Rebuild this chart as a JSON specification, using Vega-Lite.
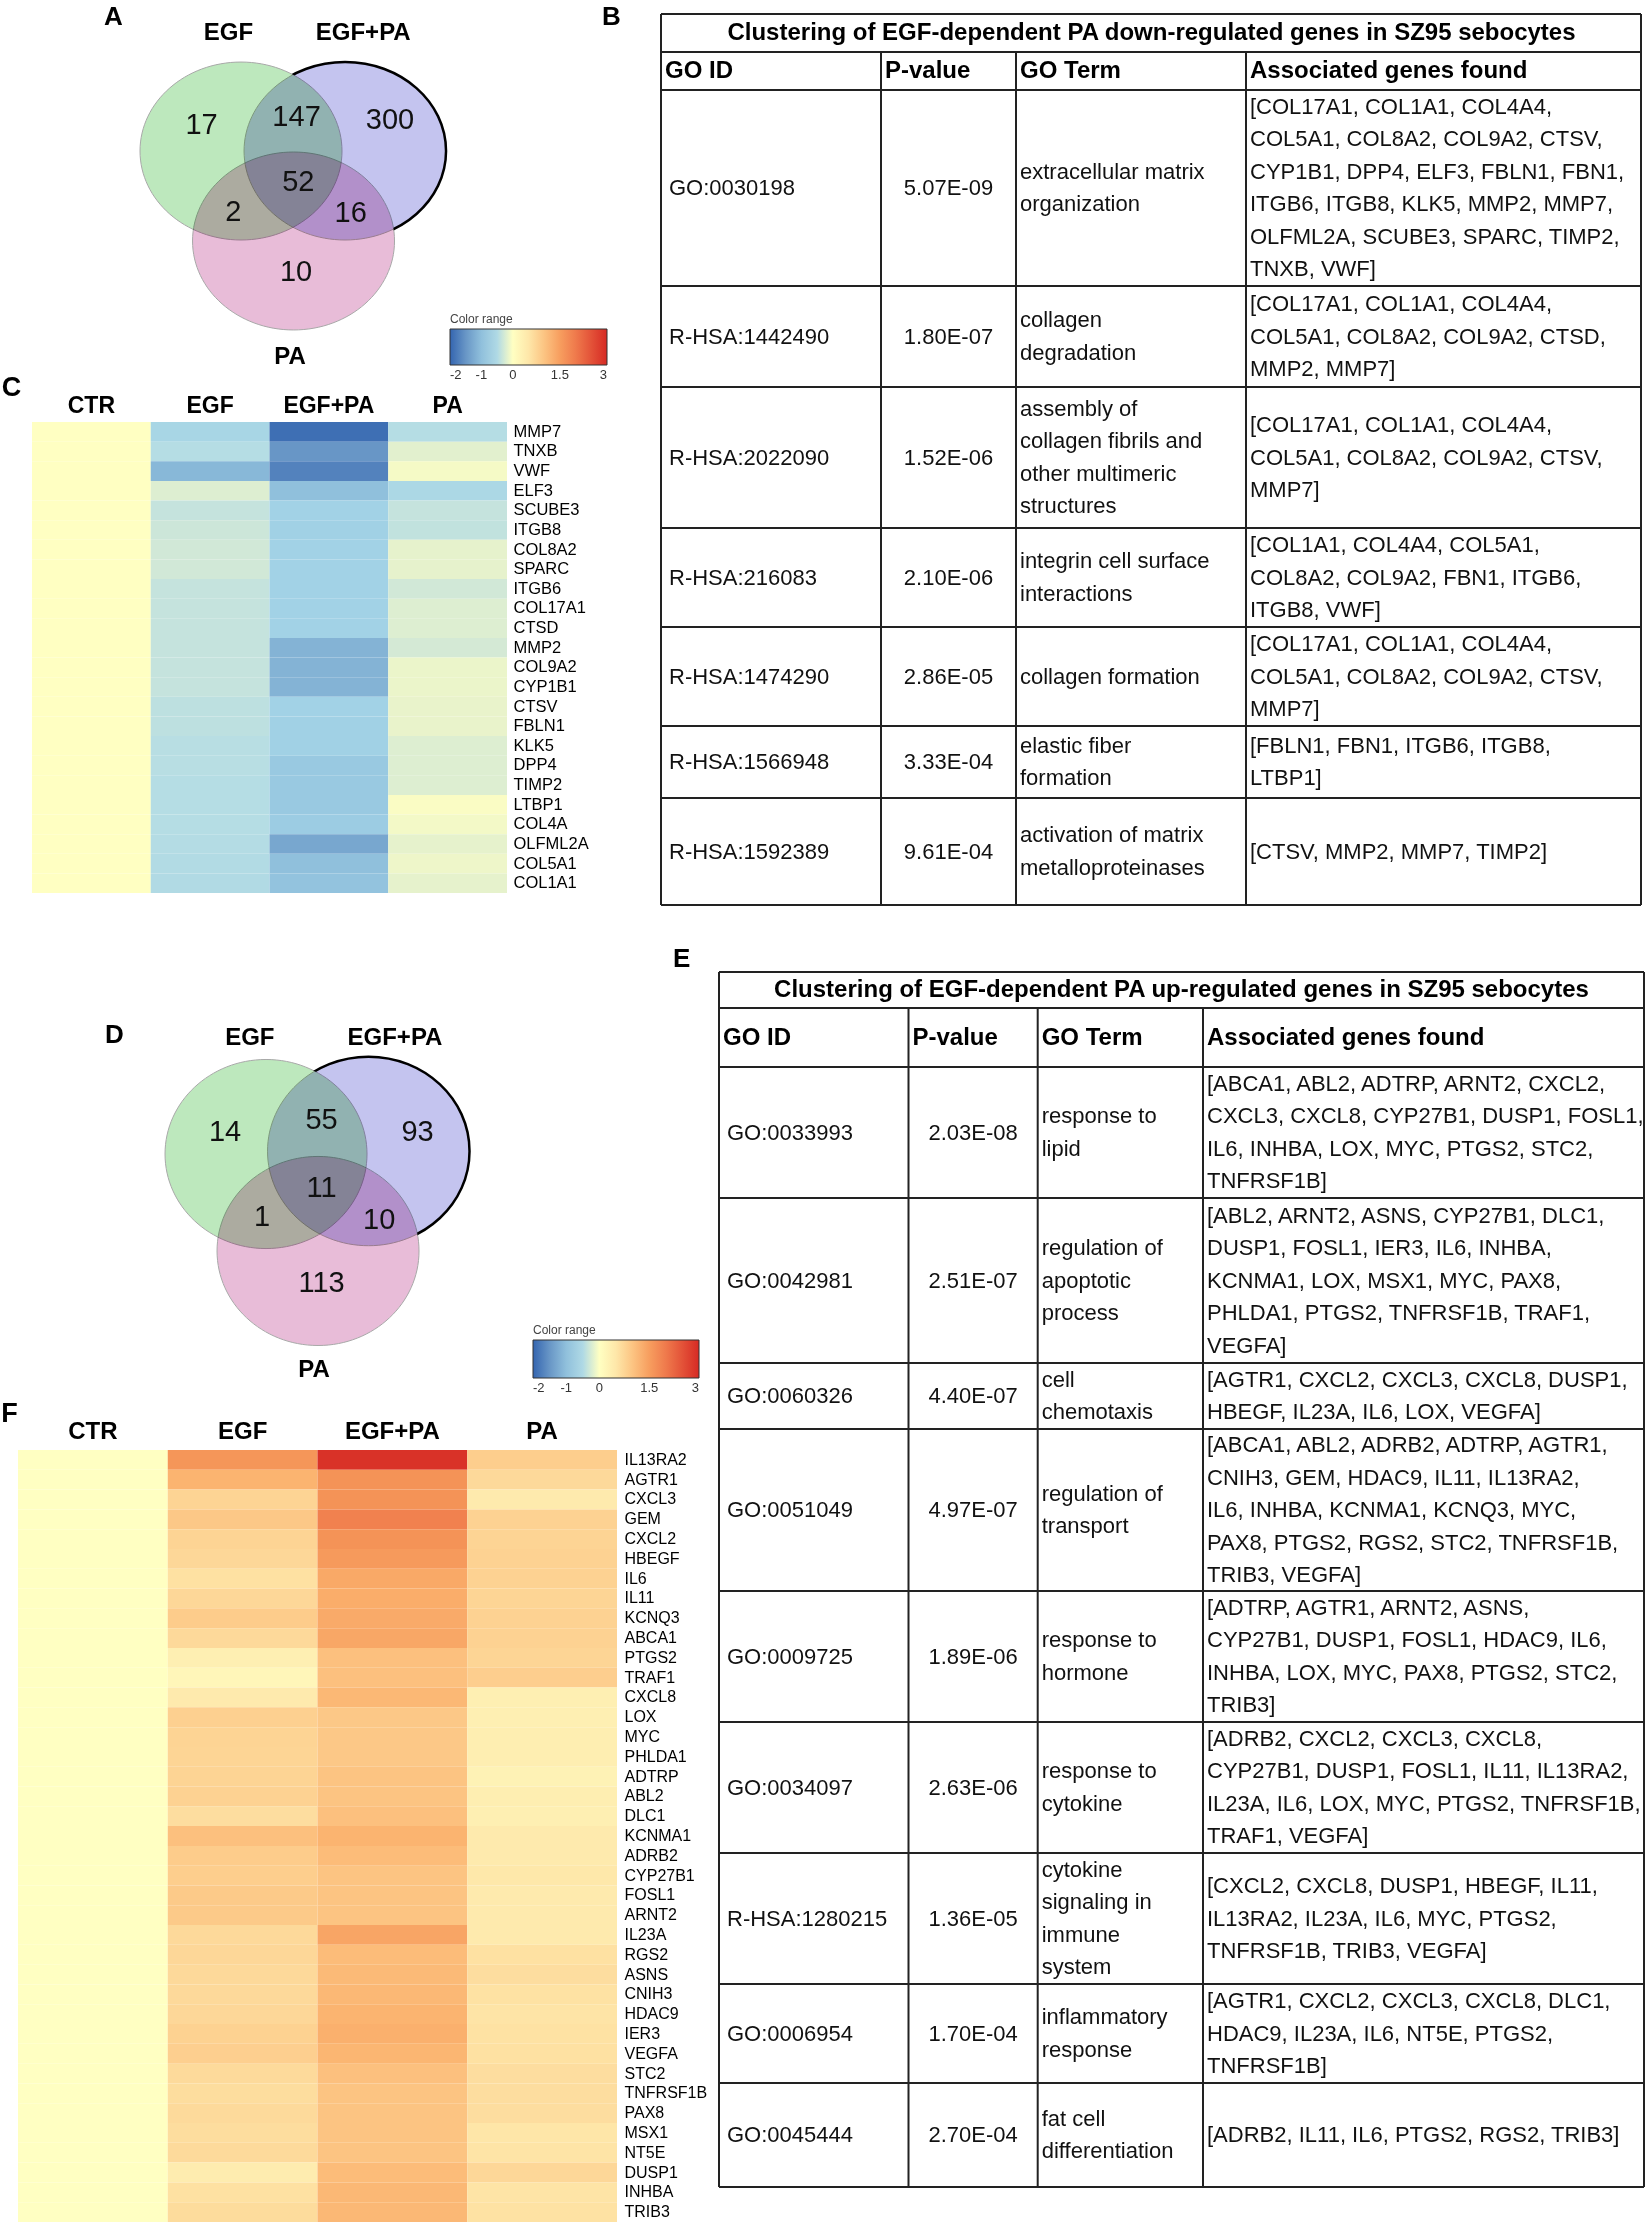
{
"$schema": "https://vega.github.io/schema/vega-lite/v6.json",
"padding": 0,
"background": "white",
"config": {"view": {"stroke": null}, "font": "Liberation Sans", "text": {"font": "Liberation Sans", "color": "#111"}, "title": {"font": "Liberation Sans"}, "axis": {"labelFont": "Liberation Sans", "titleFont": "Liberation Sans", "labelColor": "#000", "titleColor": "#000"}, "legend": {"labelFont": "Liberation Sans", "titleFont": "Liberation Sans"}},
"datasets": {
"vA": [{"set":"EGF","x":0,"y":0},{"set":"EGF+PA","x":1.03,"y":0},{"set":"PA","x":0.52,"y":-1.011}],
"lA": [{"t":"17","x":-0.39,"y":0.292},{"t":"147","x":0.55,"y":0.385},{"t":"300","x":1.475,"y":0.348},{"t":"52","x":0.567,"y":-0.352},{"t":"2","x":-0.076,"y":-0.682},{"t":"16","x":1.086,"y":-0.693},{"t":"10","x":0.545,"y":-1.356}],
"sA": [{"t":"EGF","x":-0.125,"y":1.322},{"t":"EGF+PA","x":1.21,"y":1.322},{"t":"PA","x":0.485,"y":-2.311}],
"vD": [{"set":"EGF","x":0,"y":0},{"set":"EGF+PA","x":1.015,"y":0.03},{"set":"PA","x":0.515,"y":-1.026}],
"lD": [{"t":"14","x":-0.406,"y":0.233},{"t":"55","x":0.55,"y":0.36},{"t":"93","x":1.5,"y":0.233},{"t":"11","x":0.55,"y":-0.36},{"t":"1","x":-0.04,"y":-0.667},{"t":"10","x":1.12,"y":-0.7},{"t":"113","x":0.55,"y":-1.365}],
"sD": [{"t":"EGF","x":-0.16,"y":1.228},{"t":"EGF+PA","x":1.277,"y":1.228},{"t":"PA","x":0.475,"y":-2.286}],
"hC": [
{"g":"MMP7","CTR":0,"EGF":-0.6,"EGF+PA":-1.9,"PA":-0.4},
{"g":"TNXB","CTR":0,"EGF":-0.4,"EGF+PA":-1.5,"PA":-0.12},
{"g":"VWF","CTR":0,"EGF":-1.1,"EGF+PA":-1.7,"PA":-0.04},
{"g":"ELF3","CTR":0,"EGF":-0.15,"EGF+PA":-1.0,"PA":-0.55},
{"g":"SCUBE3","CTR":0,"EGF":-0.3,"EGF+PA":-0.7,"PA":-0.3},
{"g":"ITGB8","CTR":0,"EGF":-0.25,"EGF+PA":-0.72,"PA":-0.32},
{"g":"COL8A2","CTR":0,"EGF":-0.22,"EGF+PA":-0.7,"PA":-0.1},
{"g":"SPARC","CTR":0,"EGF":-0.22,"EGF+PA":-0.7,"PA":-0.1},
{"g":"ITGB6","CTR":0,"EGF":-0.3,"EGF+PA":-0.7,"PA":-0.22},
{"g":"COL17A1","CTR":0,"EGF":-0.3,"EGF+PA":-0.7,"PA":-0.15},
{"g":"CTSD","CTR":0,"EGF":-0.3,"EGF+PA":-0.7,"PA":-0.15},
{"g":"MMP2","CTR":0,"EGF":-0.3,"EGF+PA":-1.15,"PA":-0.2},
{"g":"COL9A2","CTR":0,"EGF":-0.3,"EGF+PA":-1.15,"PA":-0.08},
{"g":"CYP1B1","CTR":0,"EGF":-0.3,"EGF+PA":-1.15,"PA":-0.08},
{"g":"CTSV","CTR":0,"EGF":-0.35,"EGF+PA":-0.7,"PA":-0.09},
{"g":"FBLN1","CTR":0,"EGF":-0.35,"EGF+PA":-0.72,"PA":-0.09},
{"g":"KLK5","CTR":0,"EGF":-0.38,"EGF+PA":-0.72,"PA":-0.15},
{"g":"DPP4","CTR":0,"EGF":-0.38,"EGF+PA":-0.85,"PA":-0.15},
{"g":"TIMP2","CTR":0,"EGF":-0.4,"EGF+PA":-0.85,"PA":-0.15},
{"g":"LTBP1","CTR":0,"EGF":-0.4,"EGF+PA":-0.85,"PA":-0.02},
{"g":"COL4A","CTR":0,"EGF":-0.4,"EGF+PA":-0.8,"PA":-0.05},
{"g":"OLFML2A","CTR":0,"EGF":-0.42,"EGF+PA":-1.3,"PA":-0.1},
{"g":"COL5A1","CTR":0,"EGF":-0.45,"EGF+PA":-1.0,"PA":-0.07},
{"g":"COL1A1","CTR":0,"EGF":-0.47,"EGF+PA":-0.95,"PA":-0.1}
],
"hF": [
{"g":"IL13RA2","CTR":0,"EGF":1.6,"EGF+PA":2.9,"PA":0.88},
{"g":"AGTR1","CTR":0,"EGF":1.2,"EGF+PA":1.65,"PA":0.72},
{"g":"CXCL3","CTR":0,"EGF":0.8,"EGF+PA":1.65,"PA":0.45},
{"g":"GEM","CTR":0,"EGF":0.95,"EGF+PA":1.9,"PA":0.82},
{"g":"CXCL2","CTR":0,"EGF":0.8,"EGF+PA":1.65,"PA":0.8},
{"g":"HBEGF","CTR":0,"EGF":0.75,"EGF+PA":1.55,"PA":0.82},
{"g":"IL6","CTR":0,"EGF":0.6,"EGF+PA":1.35,"PA":0.82},
{"g":"IL11","CTR":0,"EGF":0.75,"EGF+PA":1.3,"PA":0.78},
{"g":"KCNQ3","CTR":0,"EGF":0.9,"EGF+PA":1.33,"PA":0.82},
{"g":"ABCA1","CTR":0,"EGF":0.72,"EGF+PA":1.38,"PA":0.82},
{"g":"PTGS2","CTR":0,"EGF":0.35,"EGF+PA":1.05,"PA":0.78},
{"g":"TRAF1","CTR":0,"EGF":0.2,"EGF+PA":1.05,"PA":0.87},
{"g":"CXCL8","CTR":0,"EGF":0.45,"EGF+PA":1.15,"PA":0.35},
{"g":"LOX","CTR":0,"EGF":0.85,"EGF+PA":0.95,"PA":0.35},
{"g":"MYC","CTR":0,"EGF":0.8,"EGF+PA":0.95,"PA":0.38},
{"g":"PHLDA1","CTR":0,"EGF":0.78,"EGF+PA":0.95,"PA":0.38},
{"g":"ADTRP","CTR":0,"EGF":0.8,"EGF+PA":1.0,"PA":0.28},
{"g":"ABL2","CTR":0,"EGF":0.82,"EGF+PA":1.0,"PA":0.38},
{"g":"DLC1","CTR":0,"EGF":0.65,"EGF+PA":1.05,"PA":0.35},
{"g":"KCNMA1","CTR":0,"EGF":1.05,"EGF+PA":1.2,"PA":0.45},
{"g":"ADRB2","CTR":0,"EGF":0.9,"EGF+PA":1.1,"PA":0.45},
{"g":"CYP27B1","CTR":0,"EGF":0.88,"EGF+PA":1.0,"PA":0.48},
{"g":"FOSL1","CTR":0,"EGF":0.92,"EGF+PA":1.0,"PA":0.45},
{"g":"ARNT2","CTR":0,"EGF":0.92,"EGF+PA":1.0,"PA":0.45},
{"g":"IL23A","CTR":0,"EGF":0.72,"EGF+PA":1.4,"PA":0.45},
{"g":"RGS2","CTR":0,"EGF":0.75,"EGF+PA":1.1,"PA":0.6},
{"g":"ASNS","CTR":0,"EGF":0.72,"EGF+PA":1.12,"PA":0.65},
{"g":"CNIH3","CTR":0,"EGF":0.72,"EGF+PA":1.15,"PA":0.58},
{"g":"HDAC9","CTR":0,"EGF":0.75,"EGF+PA":1.2,"PA":0.55},
{"g":"IER3","CTR":0,"EGF":0.83,"EGF+PA":1.25,"PA":0.58},
{"g":"VEGFA","CTR":0,"EGF":0.86,"EGF+PA":1.18,"PA":0.6},
{"g":"STC2","CTR":0,"EGF":0.7,"EGF+PA":1.05,"PA":0.65},
{"g":"TNFRSF1B","CTR":0,"EGF":0.66,"EGF+PA":1.0,"PA":0.65},
{"g":"PAX8","CTR":0,"EGF":0.7,"EGF+PA":1.0,"PA":0.65},
{"g":"MSX1","CTR":0,"EGF":0.66,"EGF+PA":1.0,"PA":0.52},
{"g":"NT5E","CTR":0,"EGF":0.7,"EGF+PA":1.0,"PA":0.55},
{"g":"DUSP1","CTR":0,"EGF":0.42,"EGF+PA":1.1,"PA":0.75},
{"g":"INHBA","CTR":0,"EGF":0.6,"EGF+PA":1.15,"PA":0.55},
{"g":"TRIB3","CTR":0,"EGF":0.68,"EGF+PA":1.15,"PA":0.58}
],
"cols": [{"c":0,"b":0},{"c":1,"b":1},{"c":2,"b":1},{"c":3,"b":1},{"c":4,"b":0}],
"tB": [
{"r":0,"c":0,"t":"Clustering of EGF-dependent PA down-regulated genes in SZ95 sebocytes"},
{"r":1,"c":0,"t":"GO ID"},{"r":1,"c":1,"t":"P-value"},{"r":1,"c":2,"t":"GO Term"},{"r":1,"c":3,"t":"Associated genes found"},
{"r":2,"c":0,"t":"GO:0030198"},{"r":2,"c":1,"t":"5.07E-09"},{"r":2,"c":2,"t":"extracellular matrix\norganization"},{"r":2,"c":3,"t":"[COL17A1, COL1A1, COL4A4,\nCOL5A1, COL8A2, COL9A2, CTSV,\nCYP1B1, DPP4, ELF3, FBLN1, FBN1,\nITGB6, ITGB8, KLK5, MMP2, MMP7,\nOLFML2A, SCUBE3, SPARC, TIMP2,\nTNXB, VWF]"},
{"r":3,"c":0,"t":"R-HSA:1442490"},{"r":3,"c":1,"t":"1.80E-07"},{"r":3,"c":2,"t":"collagen\ndegradation"},{"r":3,"c":3,"t":"[COL17A1, COL1A1, COL4A4,\nCOL5A1, COL8A2, COL9A2, CTSD,\nMMP2, MMP7]"},
{"r":4,"c":0,"t":"R-HSA:2022090"},{"r":4,"c":1,"t":"1.52E-06"},{"r":4,"c":2,"t":"assembly of\ncollagen fibrils and\nother multimeric\nstructures"},{"r":4,"c":3,"t":"[COL17A1, COL1A1, COL4A4,\nCOL5A1, COL8A2, COL9A2, CTSV,\nMMP7]"},
{"r":5,"c":0,"t":"R-HSA:216083"},{"r":5,"c":1,"t":"2.10E-06"},{"r":5,"c":2,"t":"integrin cell surface\ninteractions"},{"r":5,"c":3,"t":"[COL1A1, COL4A4, COL5A1,\nCOL8A2, COL9A2, FBN1, ITGB6,\nITGB8, VWF]"},
{"r":6,"c":0,"t":"R-HSA:1474290"},{"r":6,"c":1,"t":"2.86E-05"},{"r":6,"c":2,"t":"collagen formation"},{"r":6,"c":3,"t":"[COL17A1, COL1A1, COL4A4,\nCOL5A1, COL8A2, COL9A2, CTSV,\nMMP7]"},
{"r":7,"c":0,"t":"R-HSA:1566948"},{"r":7,"c":1,"t":"3.33E-04"},{"r":7,"c":2,"t":"elastic fiber\nformation"},{"r":7,"c":3,"t":"[FBLN1, FBN1, ITGB6, ITGB8,\nLTBP1]"},
{"r":8,"c":0,"t":"R-HSA:1592389"},{"r":8,"c":1,"t":"9.61E-04"},{"r":8,"c":2,"t":"activation of matrix\nmetalloproteinases"},{"r":8,"c":3,"t":"[CTSV, MMP2, MMP7, TIMP2]"}
],
"tE": [
{"r":0,"c":0,"t":"Clustering of EGF-dependent PA up-regulated genes in SZ95 sebocytes"},
{"r":1,"c":0,"t":"GO ID"},{"r":1,"c":1,"t":"P-value"},{"r":1,"c":2,"t":"GO Term"},{"r":1,"c":3,"t":"Associated genes found"},
{"r":2,"c":0,"t":"GO:0033993"},{"r":2,"c":1,"t":"2.03E-08"},{"r":2,"c":2,"t":"response to\nlipid"},{"r":2,"c":3,"t":"[ABCA1, ABL2, ADTRP, ARNT2, CXCL2,\nCXCL3, CXCL8, CYP27B1, DUSP1, FOSL1,\nIL6, INHBA, LOX, MYC, PTGS2, STC2,\nTNFRSF1B]"},
{"r":3,"c":0,"t":"GO:0042981"},{"r":3,"c":1,"t":"2.51E-07"},{"r":3,"c":2,"t":"regulation of\napoptotic\nprocess"},{"r":3,"c":3,"t":"[ABL2, ARNT2, ASNS, CYP27B1, DLC1,\nDUSP1, FOSL1, IER3, IL6, INHBA,\nKCNMA1, LOX, MSX1, MYC, PAX8,\nPHLDA1, PTGS2, TNFRSF1B, TRAF1,\nVEGFA]"},
{"r":4,"c":0,"t":"GO:0060326"},{"r":4,"c":1,"t":"4.40E-07"},{"r":4,"c":2,"t":"cell\nchemotaxis"},{"r":4,"c":3,"t":"[AGTR1, CXCL2, CXCL3, CXCL8, DUSP1,\nHBEGF, IL23A, IL6, LOX, VEGFA]"},
{"r":5,"c":0,"t":"GO:0051049"},{"r":5,"c":1,"t":"4.97E-07"},{"r":5,"c":2,"t":"regulation of\ntransport"},{"r":5,"c":3,"t":"[ABCA1, ABL2, ADRB2, ADTRP, AGTR1,\nCNIH3, GEM, HDAC9, IL11, IL13RA2,\nIL6, INHBA, KCNMA1, KCNQ3, MYC,\nPAX8, PTGS2, RGS2, STC2, TNFRSF1B,\nTRIB3, VEGFA]"},
{"r":6,"c":0,"t":"GO:0009725"},{"r":6,"c":1,"t":"1.89E-06"},{"r":6,"c":2,"t":"response to\nhormone"},{"r":6,"c":3,"t":"[ADTRP, AGTR1, ARNT2, ASNS,\nCYP27B1, DUSP1, FOSL1, HDAC9, IL6,\nINHBA, LOX, MYC, PAX8, PTGS2, STC2,\nTRIB3]"},
{"r":7,"c":0,"t":"GO:0034097"},{"r":7,"c":1,"t":"2.63E-06"},{"r":7,"c":2,"t":"response to\ncytokine"},{"r":7,"c":3,"t":"[ADRB2, CXCL2, CXCL3, CXCL8,\nCYP27B1, DUSP1, FOSL1, IL11, IL13RA2,\nIL23A, IL6, LOX, MYC, PTGS2, TNFRSF1B,\nTRAF1, VEGFA]"},
{"r":8,"c":0,"t":"R-HSA:1280215"},{"r":8,"c":1,"t":"1.36E-05"},{"r":8,"c":2,"t":"cytokine\nsignaling in\nimmune\nsystem"},{"r":8,"c":3,"t":"[CXCL2, CXCL8, DUSP1, HBEGF, IL11,\nIL13RA2, IL23A, IL6, MYC, PTGS2,\nTNFRSF1B, TRIB3, VEGFA]"},
{"r":9,"c":0,"t":"GO:0006954"},{"r":9,"c":1,"t":"1.70E-04"},{"r":9,"c":2,"t":"inflammatory\nresponse"},{"r":9,"c":3,"t":"[AGTR1, CXCL2, CXCL3, CXCL8, DLC1,\nHDAC9, IL23A, IL6, NT5E, PTGS2,\nTNFRSF1B]"},
{"r":10,"c":0,"t":"GO:0045444"},{"r":10,"c":1,"t":"2.70E-04"},{"r":10,"c":2,"t":"fat cell\ndifferentiation"},{"r":10,"c":3,"t":"[ADRB2, IL11, IL6, PTGS2, RGS2, TRIB3]"}
]
},
"columns": 2,
"spacing": 0,
"bounds": "flush",
"align": "each",
"resolve": {"scale": {"color": "independent"}},
"concat": [
{
"width": 661, "height": 422,
"title": {"text": "A", "anchor": "start", "dx": 104, "offset": -30, "fontSize": 26, "fontWeight": "bold", "color": "#000"},
"encoding": {
"x": {"field": "x", "type": "quantitative", "scale": {"domain": [-2.386, 4.158], "nice": false, "zero": false}, "axis": null},
"y": {"field": "y", "type": "quantitative", "scale": {"domain": [-3.045, 1.697], "nice": false, "zero": false}, "axis": null}
},
"layer": [
{"data": {"name": "vA"}, "transform": [{"filter": "datum.set === 'EGF+PA'"}], "mark": {"type": "point", "shape": "M-1,0A1,0.881,0,1,1,1,0A1,0.881,0,1,1,-1,0Z", "size": 40804, "filled": false, "stroke": "#000", "strokeWidth": 2.5, "opacity": 1}},
{"data": {"name": "vA"}, "transform": [{"filter": "datum.set !== 'EGF+PA'"}], "mark": {"type": "point", "shape": "M-1,0A1,0.881,0,1,1,1,0A1,0.881,0,1,1,-1,0Z", "size": 40804, "filled": true, "fill": "#ffffff", "opacity": 1}},
{"data": {"name": "vA"}, "mark": {"type": "point", "shape": "M-1,0A1,0.881,0,1,1,1,0A1,0.881,0,1,1,-1,0Z", "size": 40804, "filled": true, "opacity": 1, "blend": "multiply", "stroke": "#a8a8a8", "strokeWidth": 1},
 "encoding": {"fill": {"field": "set", "type": "nominal", "scale": {"domain": ["EGF", "EGF+PA", "PA"], "range": ["#bde8bd", "#c4c4ef", "#e8bcd8"]}, "legend": null}}},
{"data": {"name": "lA"}, "mark": {"type": "text", "fontSize": 29, "color": "#111"}, "encoding": {"text": {"field": "t", "type": "nominal"}}},
{"data": {"name": "sA"}, "mark": {"type": "text", "fontSize": 24, "fontWeight": "bold", "color": "#000"}, "encoding": {"text": {"field": "t", "type": "nominal"}}}
]
},
{
"width": 989, "height": 422,
"title": {"text": "B", "anchor": "start", "dx": -58, "offset": -30, "fontSize": 26, "fontWeight": "bold", "color": "#000"},
"resolve": {"scale": {"y": "independent"}},
"layer": [
{
"layer": [
{"data": {"name": "cols"}, "mark": {"type": "rule", "strokeWidth": 2, "color": "#222"},
 "encoding": {"x": {"field": "c", "type": "quantitative", "scale": {"domain": [0, 1, 2, 3, 4], "range": [0, 220, 355, 585, 980], "nice": false, "zero": false}, "axis": null},
  "y": {"field": "b", "type": "quantitative", "scale": {"domain": [0, 1, 2, 3, 4, 5, 6, 7, 8, 9], "range": [14, 52, 90, 286, 387, 528, 627, 726, 798, 905], "nice": false, "zero": false}, "axis": null},
  "y2": {"datum": 9}}},
{"data": {"name": "tB"}, "transform": [{"filter": "datum.c === 0"}], "mark": {"type": "rule", "strokeWidth": 2, "color": "#222"},
 "encoding": {"x": {"datum": 0, "type": "quantitative", "axis": null}, "x2": {"datum": 4},
  "y": {"field": "r", "type": "quantitative", "axis": null}}},
{"data": {"values": [{}]}, "mark": {"type": "rule", "strokeWidth": 2, "color": "#222"},
 "encoding": {"x": {"datum": 0, "type": "quantitative", "axis": null}, "x2": {"datum": 4},
  "y": {"datum": 9, "type": "quantitative", "axis": null}}}
]
},
{
"data": {"name": "tB"},
"layer": [
{"transform": [{"filter": "datum.r === 0"}], "mark": {"type": "text", "fontSize": 24, "fontWeight": "bold", "align": "center", "baseline": "middle", "dx": -4, "color": "#000"},
 "encoding": {"y": {"field": "r", "type": "quantitative", "scale": {"domain": [-0.5, 0.5, 1.5, 2.5, 3.5, 4.5, 5.5, 6.5, 7.5, 8.5], "range": [14, 52, 90, 286, 387, 528, 627, 726, 798, 905], "nice": false, "zero": false}, "axis": null}, "text": {"field": "t", "type": "nominal"}}},
{"transform": [{"filter": "datum.r === 1"}], "mark": {"type": "text", "fontSize": 24, "fontWeight": "bold", "align": "left", "baseline": "middle", "dx": 4, "color": "#000"},
 "encoding": {"x": {"field": "c", "type": "quantitative", "axis": null}, "y": {"field": "r", "type": "quantitative", "axis": null}, "text": {"field": "t", "type": "nominal"}}},
{"transform": [{"filter": "datum.r > 1 && datum.c === 0"}], "mark": {"type": "text", "fontSize": 22, "align": "left", "baseline": "middle", "dx": 8, "color": "#111"},
 "encoding": {"x": {"field": "c", "type": "quantitative", "axis": null}, "y": {"field": "r", "type": "quantitative", "axis": null}, "text": {"field": "t", "type": "nominal"}}},
{"transform": [{"filter": "datum.r > 1 && datum.c === 1"}], "mark": {"type": "text", "fontSize": 22, "align": "center", "baseline": "middle", "dx": 67.5, "color": "#111"},
 "encoding": {"x": {"field": "c", "type": "quantitative", "axis": null}, "y": {"field": "r", "type": "quantitative", "axis": null}, "text": {"field": "t", "type": "nominal"}}},
{"transform": [{"filter": "datum.r > 1 && datum.c > 1 && length(split(datum.t, '\\n')) === 1"}], "mark": {"type": "text", "fontSize": 22, "align": "left", "baseline": "middle", "dx": 4, "dy": 0, "lineBreak": "\n", "lineHeight": 32.5, "color": "#111"},
 "encoding": {"x": {"field": "c", "type": "quantitative", "axis": null}, "y": {"field": "r", "type": "quantitative", "axis": null}, "text": {"field": "t", "type": "nominal"}}},
{"transform": [{"filter": "datum.r > 1 && datum.c > 1 && length(split(datum.t, '\\n')) === 2"}], "mark": {"type": "text", "fontSize": 22, "align": "left", "baseline": "middle", "dx": 4, "dy": -16.25, "lineBreak": "\n", "lineHeight": 32.5, "color": "#111"},
 "encoding": {"x": {"field": "c", "type": "quantitative", "axis": null}, "y": {"field": "r", "type": "quantitative", "axis": null}, "text": {"field": "t", "type": "nominal"}}},
{"transform": [{"filter": "datum.r > 1 && datum.c > 1 && length(split(datum.t, '\\n')) === 3"}], "mark": {"type": "text", "fontSize": 22, "align": "left", "baseline": "middle", "dx": 4, "dy": -32.5, "lineBreak": "\n", "lineHeight": 32.5, "color": "#111"},
 "encoding": {"x": {"field": "c", "type": "quantitative", "axis": null}, "y": {"field": "r", "type": "quantitative", "axis": null}, "text": {"field": "t", "type": "nominal"}}},
{"transform": [{"filter": "datum.r > 1 && datum.c > 1 && length(split(datum.t, '\\n')) === 4"}], "mark": {"type": "text", "fontSize": 22, "align": "left", "baseline": "middle", "dx": 4, "dy": -48.75, "lineBreak": "\n", "lineHeight": 32.5, "color": "#111"},
 "encoding": {"x": {"field": "c", "type": "quantitative", "axis": null}, "y": {"field": "r", "type": "quantitative", "axis": null}, "text": {"field": "t", "type": "nominal"}}},
{"transform": [{"filter": "datum.r > 1 && datum.c > 1 && length(split(datum.t, '\\n')) === 6"}], "mark": {"type": "text", "fontSize": 22, "align": "left", "baseline": "middle", "dx": 4, "dy": -81.25, "lineBreak": "\n", "lineHeight": 32.5, "color": "#111"},
 "encoding": {"x": {"field": "c", "type": "quantitative", "axis": null}, "y": {"field": "r", "type": "quantitative", "axis": null}, "text": {"field": "t", "type": "nominal"}}}
]
}
]
},
{
"width": 507, "height": 471,
"data": {"name": "hC"},
"transform": [{"fold": ["CTR", "EGF", "EGF+PA", "PA"], "as": ["k", "v"]}],
"mark": {"type": "rect"},
"encoding": {
"x": {"field": "k", "type": "nominal", "sort": ["CTR", "EGF", "EGF+PA", "PA"], "scale": {"paddingInner": 0, "paddingOuter": 0.13474, "align": 1},
 "axis": {"orient": "top", "title": "C", "titleX": 11, "titleY": -35, "titleAlign": "center", "titleBaseline": "middle", "titleAngle": 0, "titleFontSize": 27, "titleFontWeight": "bold", "labelAngle": 0, "ticks": false, "domain": false, "labelFontSize": 23, "labelFontWeight": "bold", "labelPadding": 5}},
"y": {"field": "g", "type": "nominal", "sort": null, "scale": {"paddingInner": 0, "paddingOuter": 0}, "axis": {"orient": "right", "title": null, "ticks": false, "domain": false, "labelFontSize": 16.5, "labelPadding": 6}},
"color": {"field": "v", "type": "quantitative",
 "scale": {"domain": [-2, -1.5, -1, -0.7, -0.4, -0.2, -0.1, 0, 0.4, 0.8, 1.2, 1.6, 2, 3], "range": ["#3465b0", "#6896c6", "#90c0dc", "#a2d2e6", "#b5dde4", "#d4e9d5", "#e6f2cc", "#ffffc2", "#feedb0", "#fdd494", "#fbb470", "#f59659", "#ef7a4c", "#d62a24"], "interpolate": "rgb"},
 "legend": {"orient": "none", "legendX": 450, "legendY": -108, "direction": "horizontal", "title": "Color range", "titleFontSize": 12, "titleFontWeight": "normal", "titleColor": "#444", "titlePadding": 3, "gradientLength": 157, "gradientThickness": 36, "values": [-2, -1, 0, 1.5, 3], "labelExpr": "'' + datum.value", "labelOverlap": false, "labelFontSize": 13, "labelColor": "#333", "labelOffset": 4, "gradientStrokeColor": "#333", "gradientStrokeWidth": 1}}
}
},
{
"width": 989, "height": 471,
"data": {"values": [{}]},
"mark": {"type": "point", "opacity": 0}
},
{
"width": 661, "height": 557,
"title": {"text": "D", "anchor": "start", "dx": 105, "offset": -155, "fontSize": 26, "fontWeight": "bold", "color": "#000"},
"encoding": {
"x": {"field": "x", "type": "quantitative", "scale": {"domain": [-2.634, 3.911], "nice": false, "zero": false}, "axis": null},
"y": {"field": "y", "type": "quantitative", "scale": {"domain": [-3.132, 2.762], "nice": false, "zero": false}, "axis": null}
},
"layer": [
{"data": {"name": "vD"}, "transform": [{"filter": "datum.set === 'EGF+PA'"}], "mark": {"type": "point", "shape": "M-1,0A1,0.936,0,1,1,1,0A1,0.936,0,1,1,-1,0Z", "size": 40804, "filled": false, "stroke": "#000", "strokeWidth": 2.5, "opacity": 1}},
{"data": {"name": "vD"}, "transform": [{"filter": "datum.set !== 'EGF+PA'"}], "mark": {"type": "point", "shape": "M-1,0A1,0.936,0,1,1,1,0A1,0.936,0,1,1,-1,0Z", "size": 40804, "filled": true, "fill": "#ffffff", "opacity": 1}},
{"data": {"name": "vD"}, "mark": {"type": "point", "shape": "M-1,0A1,0.936,0,1,1,1,0A1,0.936,0,1,1,-1,0Z", "size": 40804, "filled": true, "opacity": 1, "blend": "multiply", "stroke": "#a8a8a8", "strokeWidth": 1},
 "encoding": {"fill": {"field": "set", "type": "nominal", "scale": {"domain": ["EGF", "EGF+PA", "PA"], "range": ["#bde8bd", "#c4c4ef", "#e8bcd8"]}, "legend": null}}},
{"data": {"name": "lD"}, "mark": {"type": "text", "fontSize": 29, "color": "#111"}, "encoding": {"text": {"field": "t", "type": "nominal"}}},
{"data": {"name": "sD"}, "mark": {"type": "text", "fontSize": 24, "fontWeight": "bold", "color": "#000"}, "encoding": {"text": {"field": "t", "type": "nominal"}}}
]
},
{
"width": 989, "height": 557,
"title": {"text": "E", "anchor": "start", "dx": 12, "offset": -79, "fontSize": 26, "fontWeight": "bold", "color": "#000"},
"resolve": {"scale": {"y": "independent"}},
"layer": [
{
"layer": [
{"data": {"name": "cols"}, "mark": {"type": "rule", "strokeWidth": 2, "color": "#222"},
 "encoding": {"x": {"field": "c", "type": "quantitative", "scale": {"domain": [0, 1, 2, 3, 4], "range": [58, 247.5, 376.7, 542, 983], "nice": false, "zero": false}, "axis": null},
  "y": {"field": "b", "type": "quantitative", "scale": {"domain": [0, 1, 2, 3, 4, 5, 6, 7, 8, 9, 10, 11], "range": [79, 115, 174, 305, 470, 536, 698, 829, 960, 1091, 1190, 1294], "nice": false, "zero": false}, "axis": null},
  "y2": {"datum": 11}}},
{"data": {"name": "tE"}, "transform": [{"filter": "datum.c === 0"}], "mark": {"type": "rule", "strokeWidth": 2, "color": "#222"},
 "encoding": {"x": {"datum": 0, "type": "quantitative", "axis": null}, "x2": {"datum": 4},
  "y": {"field": "r", "type": "quantitative", "axis": null}}},
{"data": {"values": [{}]}, "mark": {"type": "rule", "strokeWidth": 2, "color": "#222"},
 "encoding": {"x": {"datum": 0, "type": "quantitative", "axis": null}, "x2": {"datum": 4},
  "y": {"datum": 11, "type": "quantitative", "axis": null}}}
]
},
{
"data": {"name": "tE"},
"layer": [
{"transform": [{"filter": "datum.r === 0"}], "mark": {"type": "text", "fontSize": 24, "fontWeight": "bold", "align": "center", "baseline": "middle", "dx": 26, "color": "#000"},
 "encoding": {"y": {"field": "r", "type": "quantitative", "scale": {"domain": [-0.5, 0.5, 1.5, 2.5, 3.5, 4.5, 5.5, 6.5, 7.5, 8.5, 9.5, 10.5], "range": [79, 115, 174, 305, 470, 536, 698, 829, 960, 1091, 1190, 1294], "nice": false, "zero": false}, "axis": null}, "text": {"field": "t", "type": "nominal"}}},
{"transform": [{"filter": "datum.r === 1"}], "mark": {"type": "text", "fontSize": 24, "fontWeight": "bold", "align": "left", "baseline": "middle", "dx": 4, "color": "#000"},
 "encoding": {"x": {"field": "c", "type": "quantitative", "axis": null}, "y": {"field": "r", "type": "quantitative", "axis": null}, "text": {"field": "t", "type": "nominal"}}},
{"transform": [{"filter": "datum.r > 1 && datum.c === 0"}], "mark": {"type": "text", "fontSize": 22, "align": "left", "baseline": "middle", "dx": 8, "color": "#111"},
 "encoding": {"x": {"field": "c", "type": "quantitative", "axis": null}, "y": {"field": "r", "type": "quantitative", "axis": null}, "text": {"field": "t", "type": "nominal"}}},
{"transform": [{"filter": "datum.r > 1 && datum.c === 1"}], "mark": {"type": "text", "fontSize": 22, "align": "center", "baseline": "middle", "dx": 64.6, "color": "#111"},
 "encoding": {"x": {"field": "c", "type": "quantitative", "axis": null}, "y": {"field": "r", "type": "quantitative", "axis": null}, "text": {"field": "t", "type": "nominal"}}},
{"transform": [{"filter": "datum.r > 1 && datum.c > 1 && length(split(datum.t, '\\n')) === 1"}], "mark": {"type": "text", "fontSize": 22, "align": "left", "baseline": "middle", "dx": 4, "dy": 0, "lineBreak": "\n", "lineHeight": 32.5, "color": "#111"},
 "encoding": {"x": {"field": "c", "type": "quantitative", "axis": null}, "y": {"field": "r", "type": "quantitative", "axis": null}, "text": {"field": "t", "type": "nominal"}}},
{"transform": [{"filter": "datum.r > 1 && datum.c > 1 && length(split(datum.t, '\\n')) === 2"}], "mark": {"type": "text", "fontSize": 22, "align": "left", "baseline": "middle", "dx": 4, "dy": -16.25, "lineBreak": "\n", "lineHeight": 32.5, "color": "#111"},
 "encoding": {"x": {"field": "c", "type": "quantitative", "axis": null}, "y": {"field": "r", "type": "quantitative", "axis": null}, "text": {"field": "t", "type": "nominal"}}},
{"transform": [{"filter": "datum.r > 1 && datum.c > 1 && length(split(datum.t, '\\n')) === 3"}], "mark": {"type": "text", "fontSize": 22, "align": "left", "baseline": "middle", "dx": 4, "dy": -32.5, "lineBreak": "\n", "lineHeight": 32.5, "color": "#111"},
 "encoding": {"x": {"field": "c", "type": "quantitative", "axis": null}, "y": {"field": "r", "type": "quantitative", "axis": null}, "text": {"field": "t", "type": "nominal"}}},
{"transform": [{"filter": "datum.r > 1 && datum.c > 1 && length(split(datum.t, '\\n')) === 4"}], "mark": {"type": "text", "fontSize": 22, "align": "left", "baseline": "middle", "dx": 4, "dy": -48.75, "lineBreak": "\n", "lineHeight": 32.5, "color": "#111"},
 "encoding": {"x": {"field": "c", "type": "quantitative", "axis": null}, "y": {"field": "r", "type": "quantitative", "axis": null}, "text": {"field": "t", "type": "nominal"}}},
{"transform": [{"filter": "datum.r > 1 && datum.c > 1 && length(split(datum.t, '\\n')) === 5"}], "mark": {"type": "text", "fontSize": 22, "align": "left", "baseline": "middle", "dx": 4, "dy": -65, "lineBreak": "\n", "lineHeight": 32.5, "color": "#111"},
 "encoding": {"x": {"field": "c", "type": "quantitative", "axis": null}, "y": {"field": "r", "type": "quantitative", "axis": null}, "text": {"field": "t", "type": "nominal"}}}
]
}
]
},
{
"width": 617, "height": 772,
"data": {"name": "hF"},
"transform": [{"fold": ["CTR", "EGF", "EGF+PA", "PA"], "as": ["k", "v"]}],
"mark": {"type": "rect"},
"encoding": {
"x": {"field": "k", "type": "nominal", "sort": ["CTR", "EGF", "EGF+PA", "PA"], "scale": {"paddingInner": 0, "paddingOuter": 0.0601, "align": 1},
 "axis": {"orient": "top", "title": "F", "titleX": 9, "titleY": -37, "titleAlign": "center", "titleBaseline": "middle", "titleAngle": 0, "titleFontSize": 27, "titleFontWeight": "bold", "labelAngle": 0, "ticks": false, "domain": false, "labelFontSize": 24, "labelFontWeight": "bold", "labelPadding": 7}},
"y": {"field": "g", "type": "nominal", "sort": null, "scale": {"paddingInner": 0, "paddingOuter": 0}, "axis": {"orient": "right", "title": null, "ticks": false, "domain": false, "labelFontSize": 16, "labelPadding": 7}},
"color": {"field": "v", "type": "quantitative",
 "scale": {"domain": [-2, -1.5, -1, -0.7, -0.4, -0.2, -0.1, 0, 0.4, 0.8, 1.2, 1.6, 2, 3], "range": ["#3465b0", "#6896c6", "#90c0dc", "#a2d2e6", "#b5dde4", "#d4e9d5", "#e6f2cc", "#ffffc2", "#feedb0", "#fdd494", "#fbb470", "#f59659", "#ef7a4c", "#d62a24"], "interpolate": "rgb"},
 "legend": {"orient": "none", "legendX": 533, "legendY": -125, "direction": "horizontal", "title": "Color range", "titleFontSize": 12, "titleFontWeight": "normal", "titleColor": "#444", "titlePadding": 3, "gradientLength": 166, "gradientThickness": 38, "values": [-2, -1, 0, 1.5, 3], "labelExpr": "'' + datum.value", "labelOverlap": false, "labelFontSize": 13, "labelColor": "#333", "labelOffset": 4, "gradientStrokeColor": "#333", "gradientStrokeWidth": 1}}
}
}
]
}
